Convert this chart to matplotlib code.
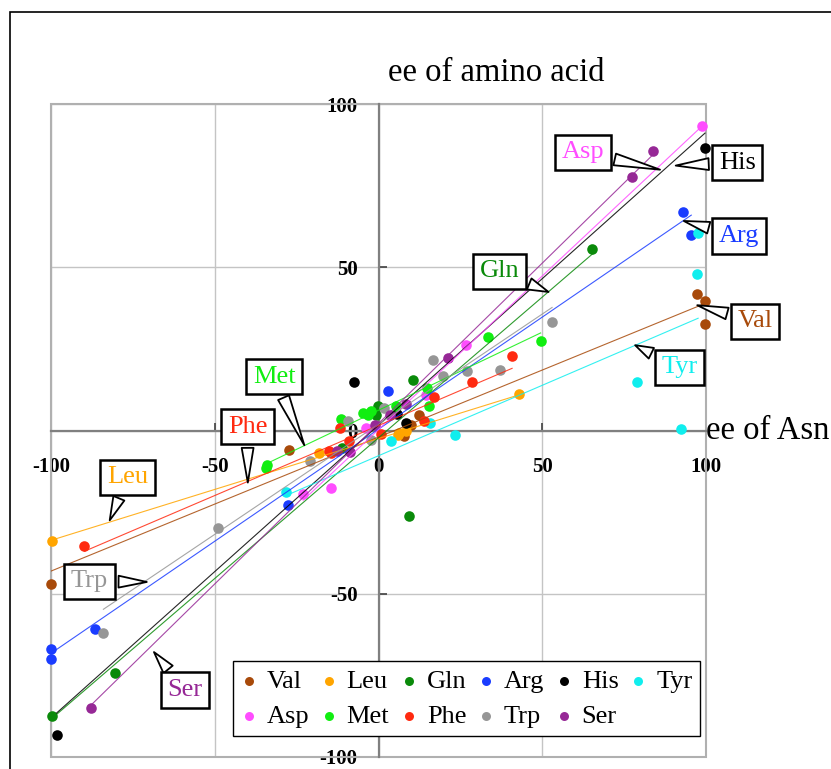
import matplotlib
matplotlib.use("Agg")
import matplotlib.pyplot as plt
from matplotlib.patches import Rectangle
import numpy as np

plt.rcParams['font.family'] = ['Liberation Serif', 'DejaVu Serif']
plt.rcParams['axes.unicode_minus'] = False

# ee of Asn (x) vs ee of amino acid (y)
names = ['Val', 'Leu', 'Gln', 'Arg', 'His', 'Tyr', 'Asp', 'Met', 'Phe', 'Trp', 'Ser']
colors = ['#a84a0a', '#ffa500', '#0a8a0a', '#1a3cff', '#000000', '#10eeee',
          '#ff4dff', '#11ee11', '#ff2a10', '#969696', '#962896']

val_x = [-100, -27.3, 7.9, 10, 12.5, 97.3, 99.8, 99.8]
val_y = [-47, -6, -1.7, 1.8, 4.9, 41.8, 39.7, 32.5]
leu_x = [-99.7, -18.2, 5.9, 6.4, 8.5, 42.8]
leu_y = [-33.7, -7, -1.3, -0.7, -0.2, 11.2]
gln_x = [-99.6, -80.4, -11.2, -0.7, -0.2, 9.2, 10.6, 65.3]
gln_y = [-87.5, -74.4, -5.5, 4.9, 7.4, -26.3, 15.6, 55.7]
arg_x = [-100, -100, -86.7, -27.7, 2.9, 93, 95.5]
arg_y = [-67, -70, -60.7, -22.7, 12, 66.8, 60]
his_x = [-98.3, -7.5, 5.7, 8.5, 99.7]
his_y = [-93.4, 14.8, 5.2, 2.4, 86.5]
tyr_x = [-28.1, 3.9, 15.6, 23.3, 79, 92.4, 97.2, 97.6]
tyr_y = [-18.9, -3.3, 2.4, -1.5, 14.8, 0.5, 48, 60.5]
asp_x = [-23, -14.4, -3.8, 14.5, 26.6, 98.8]
asp_y = [-19.4, -17.5, 0.8, 11, 26.3, 93.4]
met_x = [-34.5, -34, -11.4, -4.8, -3.3, -2.2, 5.4, 14.9, 15.4, 33.4, 49.5]
met_y = [-11.5, -10.5, 3.6, 5.4, 4.9, 5.9, 7.4, 13, 7.6, 28.7, 27.3]
phe_x = [-89.8, -15.2, -14.6, -11.9, -8.9, 0.8, 14, 16.9, 28.6, 40.8]
phe_y = [-35.4, -6.3, -6.8, 0.8, -3.3, -1.2, 2.8, 10.4, 14.8, 22.7]
trp_x = [-84, -49.1, -20.8, -9.4, -2.2, 1.8, 16.5, 19.8, 27.1, 37, 53]
trp_y = [-61.9, -30, -9.2, 2.8, -2.8, 6.9, 21.6, 16.8, 18.2, 18.5, 33.3]
ser_x = [-87.7, -12.6, -8.8, -1.2, 3.4, 8.5, 21.3, 77.5, 83.9]
ser_y = [-84.9, -6.3, -6.6, 1.8, 4.9, 8, 22.1, 77.5, 85.5]

xs = [val_x, leu_x, gln_x, arg_x, his_x, tyr_x, asp_x, met_x, phe_x, trp_x, ser_x]
ys = [val_y, leu_y, gln_y, arg_y, his_y, tyr_y, asp_y, met_y, phe_y, trp_y, ser_y]

# callouts: (box centre, pointer tip) in data units
callouts = {
    'Leu': ((-76.6, -14.3), (-82.4, -28.3)),
    'Phe': ((-40.0, 1.2), (-39.9, -16.8)),
    'Met': ((-31.8, 16.5), (-22.3, -5.3)),
    'Trp': ((-88.2, -46.2), (-69.9, -46.4)),
    'Ser': ((-59.1, -79.5), (-69.1, -67.2)),
    'Asp': ((62.5, 85.2), (86.8, 79.7)),
    'His': ((109.6, 82.0), (89.9, 81.1)),
    'Arg': ((110.1, 59.6), (92.4, 64.4)),
    'Gln': ((36.9, 48.7), (52.7, 42.1)),
    'Val': ((114.9, 33.5), (96.5, 38.6)),
    'Tyr': ((91.9, 19.4), (77.6, 26.5)),
}

fig = plt.figure(figsize=(8.31, 7.69), dpi=100)
ax = fig.add_axes([51 / 831, 1 - 757 / 769, 655 / 831, 653 / 769])

handles = {}
for name, c, x, y in zip(names, colors, xs, ys):
    h = ax.scatter(x, y, s=58, color=c, zorder=3, clip_on=False, label=name,
                   linewidths=0)
    handles[name] = h
    k, b = np.polyfit(x, y, 1)
    xl = np.array([min(x), max(x)])
    ax.plot(xl, k * xl + b, color=c, lw=0.8, alpha=0.85, zorder=4)

ax.set_xlim(-100, 100)
ax.set_ylim(-100, 100)
ax.set_xticks([-100, -50, 0, 50, 100])
ax.set_yticks([-100, -50, 0, 50, 100])

for side in ['top', 'right']:
    ax.spines[side].set_visible(False)
ax.spines['left'].set_position(('data', 0))
ax.spines['bottom'].set_position(('data', 0))
for side in ['left', 'bottom']:
    ax.spines[side].set_color('#808080')
    ax.spines[side].set_linewidth(1.6)
    ax.spines[side].set_zorder(2)

ax.grid(True, color='#c4c4c4', lw=1, zorder=0)
ax.set_axisbelow(True)
ax.add_patch(Rectangle((0, 0), 1, 1, transform=ax.transAxes, fill=False,
                       ec='#b0b0b0', lw=1.5, clip_on=False, zorder=1))

ax.tick_params(axis='x', direction='in', length=6, width=1.2, color='#404040', pad=19)
ax.tick_params(axis='y', direction='in', length=6, width=1.2, color='#404040', pad=15)
for lab in ax.get_xticklabels() + ax.get_yticklabels():
    lab.set_fontsize(15)
    lab.set_fontweight('bold')

for name, c in zip(names, colors):
    box, tip = callouts[name]
    ax.annotate(name, xy=tip, xytext=box, textcoords='data', ha='center', va='center',
                color=c, fontsize=19, annotation_clip=False, zorder=6,
                bbox=dict(boxstyle='square,pad=0.25', fc='white', ec='black', lw=1.8),
                arrowprops=dict(arrowstyle='wedge,tail_width=0.45,shrink_factor=0.5',
                                fc='white', ec='black', lw=1.3))

order = ['Val', 'Asp', 'Leu', 'Met', 'Gln', 'Phe', 'Arg', 'Trp', 'His', 'Ser', 'Tyr']
leg = ax.legend([handles[n] for n in order], order, ncol=6, loc='lower left',
                bbox_to_anchor=(0.278, 0.032), borderaxespad=0, fancybox=False,
                edgecolor='black', framealpha=1, handlelength=0.6, handletextpad=0.37,
                columnspacing=0.45, labelspacing=0.45, borderpad=0.3, fontsize=19,
                markerscale=0.85, scatterpoints=1)
leg.get_frame().set_linewidth(1.0)
leg.set_zorder(7)

fig.text(496.7 / 831, 1 - 73 / 769, 'ee of amino acid', fontsize=23.5,
         ha='center', va='center')
fig.text(706 / 831, 1 - 431 / 769, 'ee of Asn', fontsize=23.5, ha='left', va='center')

fig.patches.append(Rectangle((10 / 831, -0.05), 1.2, 1 - 12 / 769 + 0.05,
                             transform=fig.transFigure, fill=False, ec='black', lw=1.2))

fig.savefig('out.png', dpi=100)
